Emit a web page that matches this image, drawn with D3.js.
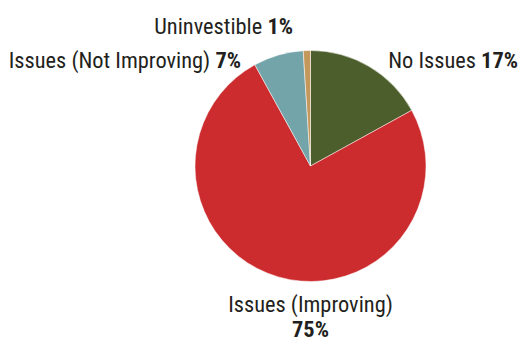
<!DOCTYPE html>
<html>
<head>
<meta charset="utf-8">
<script src="https://cdn.jsdelivr.net/npm/d3@7"></script>
<style>
body { margin: 0; background: #fff; }
text { font-family: "Roboto Condensed", "Liberation Sans Narrow", "Roboto", sans-serif; fill: #231f20; }
</style>
</head>
<body>
<script>
// slices in clockwise order from 12 o'clock
const labels = ["No Issues", "Issues (Improving)", "Issues (Not Improving)", "Uninvestible"];
const values = [17, 75, 7, 1];
const colors = ["#4c5e2b", "#cc2c2e", "#72a4aa", "#c4975b"];

const width = 521;
const height = 341;
const cx = 310.5, cy = 166, r = 115.5;
const fontSize = 22.4;

const svg = d3.select("body").append("svg")
    .attr("width", width)
    .attr("height", height);

const pie = d3.pie().sort(null).value(d => d.v);
const arc = d3.arc().innerRadius(0).outerRadius(r);

const data = labels.map((l, i) => ({ l: l, v: values[i], c: colors[i] }));

const g = svg.append("g").attr("transform", `translate(${cx},${cy})`);

g.selectAll("path")
    .data(pie(data))
    .enter()
    .append("path")
    .attr("d", arc)
    .attr("fill", d => d.data.c)
    .attr("stroke", "#fff")
    .attr("stroke-width", 0.5);

// label positions per slice
const labelPos = [
    { x: 518, y: 68, anchor: "end" },
    { x: 310.5, y: 312, anchor: "middle", split: true },
    { x: 241, y: 68, anchor: "end" },
    { x: 293, y: 34, anchor: "end" }
];

data.forEach((d, i) => {
    const p = labelPos[i];
    const t = svg.append("text")
        .attr("x", p.x)
        .attr("y", p.y)
        .attr("text-anchor", p.anchor)
        .attr("font-size", fontSize + "px");
    if (p.split) {
        t.append("tspan").text(d.l);
        svg.append("text")
            .attr("x", p.x)
            .attr("y", p.y + 25)
            .attr("text-anchor", p.anchor)
            .attr("font-size", fontSize + "px")
            .attr("font-weight", "bold")
            .text(d.v + "%");
    } else {
        t.append("tspan").text(d.l + " ");
        t.append("tspan").attr("font-weight", "bold").text(d.v + "%");
    }
});
</script>
</body>
</html>
